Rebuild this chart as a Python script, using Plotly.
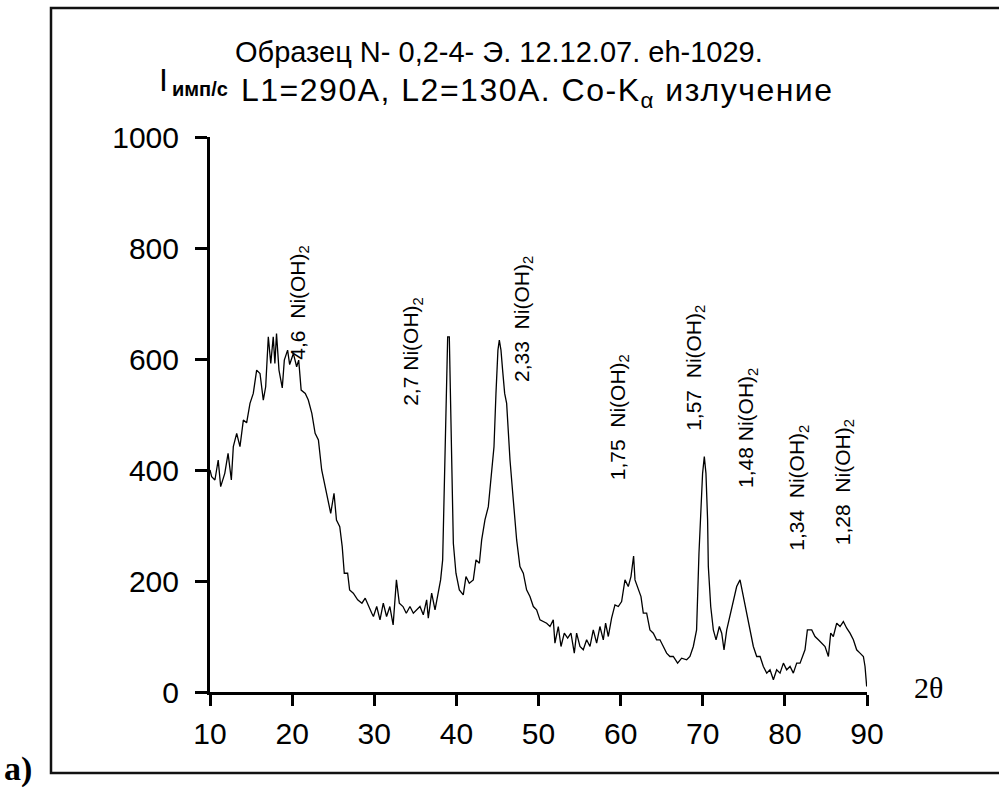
import plotly.graph_objects as go

# ---- data (2theta, intensity) ----
two_theta = [
    10.0, 10.2, 10.6, 11.0, 11.3, 11.8, 12.2, 12.6, 12.84, 13.25, 13.65, 14.06, 14.46, 14.87,
    15.27, 15.68, 16.09, 16.49, 16.78, 17.1, 17.4, 17.7, 17.9, 18.1, 18.4, 18.8, 19.05,
    19.45, 19.7, 20.15, 20.55, 20.8, 21.1, 21.6, 21.97, 22.4, 22.8, 23.2, 23.6, 24.0,
    24.3, 24.7, 25.1, 25.4, 25.8, 26.1, 26.35, 26.76, 27.0, 27.45, 27.98, 28.5, 28.9,
    29.3, 29.7, 29.9, 30.3, 30.7, 31.1, 31.5, 31.9, 32.3, 32.7, 33.05, 33.5, 33.9,
    34.35, 34.76, 35.16, 35.57, 35.97, 36.38, 36.58, 36.99, 37.4, 37.8, 38.08, 38.33,
    38.49, 38.73, 38.94, 39.14, 39.34, 39.63, 39.95, 40.36, 40.84, 41.17, 41.57, 42.06,
    42.39, 42.8, 43.08, 43.48, 43.89, 44.29, 44.58, 44.82, 45.06, 45.23, 45.43, 45.63,
    45.88, 46.12, 46.53, 46.93, 47.34, 47.74, 48.15, 48.55, 48.96, 49.37, 49.77, 50.18,
    50.6, 50.99, 51.4, 51.8, 52.0, 52.41, 52.74, 53.14, 53.55, 53.95, 54.36, 54.64,
    55.05, 55.45, 55.86, 56.27, 56.67, 57.08, 57.48, 57.89, 58.17, 58.5, 58.9, 59.31,
    59.72, 60.12, 60.53, 60.93, 61.26, 61.58, 61.75, 62.07, 62.48, 62.76, 63.17, 63.57,
    63.98, 64.38, 64.79, 65.2, 65.6, 66.0, 66.41, 66.94, 67.43, 68.04, 68.44, 68.85,
    69.25, 69.54, 69.74, 69.98, 70.19, 70.39, 70.59, 70.68, 70.97, 71.29, 71.62, 72.02,
    72.31, 72.59, 72.92, 73.32, 73.73, 74.13, 74.54, 74.95, 75.35, 75.76, 76.16, 76.57,
    76.98, 77.38, 77.79, 78.19, 78.6, 79.0, 79.41, 79.82, 80.22, 80.63, 81.03, 81.44,
    81.85, 82.45, 82.74, 83.27, 83.67, 84.08, 84.48, 84.89, 85.3, 85.58, 85.9, 86.31,
    86.72, 87.12, 87.53, 87.93, 88.34, 88.74, 89.15, 89.56, 89.76, 89.96,
]
intensity = [
    400, 388, 382, 418, 370, 394, 430, 382, 442, 466, 442, 490, 485, 520,
    538, 580, 574, 526, 550, 640, 592, 640, 592, 646, 580, 548, 598,
    616, 590, 610, 586, 598, 544, 538, 526, 502, 466, 454, 400, 370,
    346, 322, 358, 310, 298, 262, 214, 214, 184, 178, 166, 160, 169,
    154, 142, 136, 154, 130, 160, 136, 154, 121, 202, 160, 154, 142,
    154, 142, 148, 154, 139, 166, 133, 178, 148, 178, 202, 238,
    358, 478, 640, 640, 478, 268, 214, 184, 175, 208, 196, 202,
    238, 232, 274, 310, 334, 406, 442, 538, 616, 634, 616, 580,
    538, 520, 418, 346, 274, 226, 214, 184, 172, 154, 148, 130,
    127, 124, 118, 130, 88, 118, 82, 106, 97, 106, 70, 106,
    82, 76, 94, 82, 112, 88, 118, 94, 124, 100, 133, 157,
    154, 163, 202, 190, 208, 245, 202, 190, 172, 142, 142, 112,
    106, 94, 94, 82, 70, 64, 64, 52, 61, 58, 64, 82,
    112, 250, 328, 394, 424, 394, 310, 226, 154, 112, 94, 118,
    106, 76, 112, 136, 166, 190, 202, 172, 142, 112, 82, 64,
    64, 46, 34, 40, 22, 40, 34, 52, 40, 46, 34, 52,
    52, 76, 112, 112, 100, 94, 88, 82, 64, 106, 100, 124,
    118, 127, 115, 106, 94, 76, 70, 64, 46, 10,
]

x_ticks = [10, 20, 30, 40, 50, 60, 70, 80, 90]
y_ticks = [0, 200, 400, 600, 800, 1000]

peak_labels = [
    "4,6\u00a0\u00a0Ni(OH)<sub>2</sub>",
    "2,7 Ni(OH)<sub>2</sub>",
    "2,33\u00a0\u00a0Ni(OH)<sub>2</sub>",
    "1,75\u00a0\u00a0Ni(OH)<sub>2</sub>",
    "1,57\u00a0\u00a0Ni(OH)<sub>2</sub>",
    "1,48 Ni(OH)<sub>2</sub>",
    "1,34\u00a0\u00a0Ni(OH)<sub>2</sub>",
    "1,28\u00a0\u00a0Ni(OH)<sub>2</sub>",
]
label_x = [20.8, 34.6, 48.1, 59.8, 69.05, 75.4, 81.6, 87.2]
label_y = [701, 613, 672, 495, 584, 476, 368, 378]

title_line1 = "Образец N- 0,2-4- Э. 12.12.07. eh-1029."
title_line2 = "L1=290A, L2=130A. Co-K<sub>α</sub> излучение"
y_unit_main = "I"
y_unit_sub = "имп/с"
x_axis_label = "2θ"
panel_label = "a)"

SANS = "Liberation Sans, Arial, sans-serif"
SERIF = "Liberation Serif, Times New Roman, serif"

fig = go.Figure()
fig.add_trace(go.Scatter(
    x=two_theta, y=intensity, mode="lines",
    line=dict(color="black", width=1.3, shape="linear"),
    hoverinfo="skip", showlegend=False,
))

annotations = []
for txt, lx, ly in zip(peak_labels, label_x, label_y):
    annotations.append(dict(
        x=lx, y=ly, xref="x", yref="y", text=txt, textangle=-90,
        showarrow=False, xanchor="center", yanchor="middle",
        font=dict(family=SANS, size=21, color="black"),
    ))

annotations += [
    dict(x=(499 - 210) / 657, y=(692 - 52) / 555, xref="paper", yref="paper", text=title_line1,
         showarrow=False, xanchor="center", yanchor="middle",
         font=dict(family=SANS, size=29, color="black")),
    dict(x=(239 - 210) / 657, y=(692 - 93) / 555, xref="paper", yref="paper",
         text='<span style="letter-spacing:1.5px">' + title_line2 + '</span>',
         showarrow=False, xanchor="left", yanchor="middle",
         font=dict(family=SANS, size=32, color="black")),
    dict(x=(157 - 210) / 657, y=(692 - 80) / 555, xref="paper", yref="paper", text=y_unit_main,
         showarrow=False, xanchor="left", yanchor="middle",
         font=dict(family=SANS, size=32, color="black")),
    dict(x=(170 - 210) / 657, y=(692 - 89) / 555, xref="paper", yref="paper", text="<b>" + y_unit_sub + "</b>",
         showarrow=False, xanchor="left", yanchor="middle",
         font=dict(family=SANS, size=20, color="black")),
    dict(x=(928 - 210) / 657, y=(692 - 687) / 555, xref="paper", yref="paper", text=x_axis_label,
         showarrow=False, xanchor="center", yanchor="middle",
         font=dict(family=SERIF, size=30, color="black")),
    dict(x=(18 - 210) / 657, y=(692 - 769) / 555, xref="paper", yref="paper", text="<b>" + panel_label + "</b>",
         showarrow=False, xanchor="center", yanchor="middle",
         font=dict(family=SERIF, size=34, color="black")),
]

# outer frame
fig.add_shape(type="rect", xref="paper", yref="paper",
              x0=(51 - 210) / 657, x1=(1001 - 210) / 657,
              y0=(692 - 773) / 555, y1=(692 - 8) / 555,
              line=dict(color="#111111", width=2.5), layer="below")

fig.update_layout(
    width=999, height=789,
    margin=dict(l=210, r=132, t=137, b=97, pad=0),
    paper_bgcolor="white", plot_bgcolor="white",
    annotations=annotations,
    showlegend=False,
    xaxis=dict(
        range=[10, 90], tickvals=x_ticks, ticktext=[str(v) for v in x_ticks],
        showgrid=False, zeroline=False, showline=True, linecolor="black", linewidth=3,
        ticks="outside", ticklen=11, tickwidth=3, tickcolor="black",
        tickfont=dict(family=SANS, size=30, color="black"),
        ticklabelstandoff=2,
        fixedrange=True,
    ),
    yaxis=dict(
        range=[0, 1000], tickvals=y_ticks, ticktext=[str(v) for v in y_ticks],
        showgrid=False, zeroline=False, showline=True, linecolor="black", linewidth=3,
        ticks="outside", ticklen=12, tickwidth=3, tickcolor="black",
        tickfont=dict(family=SANS, size=30, color="black"),
        ticklabelstandoff=10,
        fixedrange=True,
    ),
)

fig.write_html("out.html", config={"displayModeBar": False})
